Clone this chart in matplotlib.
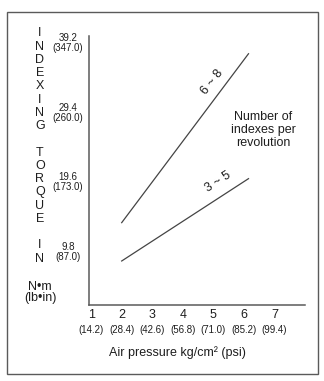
import matplotlib
matplotlib.use('Agg')
import matplotlib.pyplot as plt
from matplotlib.patches import Rectangle

# air pressure in kg/cm2 and the same in psi
pressure = [1, 2, 3, 4, 5, 6, 7]
pressure_psi = ["(14.2)", "(28.4)", "(42.6)", "(56.8)", "(71.0)", "(85.2)", "(99.4)"]

# indexing torque ticks in N*m and lb*in
torque = [9.8, 19.6, 29.4, 39.2]
torque_lbin = ["(87.0)", "(173.0)", "(260.0)", "(347.0)"]

# torque lines for number of indexes per revolution
line_x = [2, 6.15]
torque_6_8 = [13.9, 37.7]
torque_3_5 = [8.5, 20.1]

plt.rcParams['font.family'] = ['Liberation Sans', 'DejaVu Sans']
narrow = ['Liberation Sans Narrow', 'Liberation Sans', 'DejaVu Sans']
ink = '#1e1e1e'
line_col = '#444444'

fig = plt.figure(figsize=(3.24, 3.81), dpi=100)
fig.patches.append(Rectangle((0.0216, 0.0184), 0.96, 0.95, transform=fig.transFigure,
                             fill=False, edgecolor='#5a5a5a', linewidth=1.0))

ax = fig.add_axes([0.2747, 0.1995, 0.6667, 0.706])
ax.plot(line_x, torque_6_8, color=line_col, linewidth=0.9)
ax.plot(line_x, torque_3_5, color=line_col, linewidth=0.9)

ax.set_xlim(0.93, 8.0)
ax.set_ylim(2.3, 40.2)
for side in ['top', 'right']:
	ax.spines[side].set_visible(False)
for side in ['left', 'bottom']:
	ax.spines[side].set_color('#5a5a5a')
	ax.spines[side].set_linewidth(1.1)
ax.set_xticks([])
ax.set_yticks([])

# x tick labels: kg/cm2 on top, psi below
for p, psi in zip(pressure, pressure_psi):
	ax.annotate(str(p), xy=(p, 0), xycoords=('data', 'axes fraction'),
	            xytext=(0, -3), textcoords='offset points', ha='center', va='top',
	            fontsize=9, color=ink)
	ax.annotate(psi, xy=(p, 0), xycoords=('data', 'axes fraction'),
	            xytext=(0, -18), textcoords='offset points', ha='center', va='center',
	            fontsize=7, family=narrow, color=ink)

# y tick labels: N*m over lb*in
for t, lb in zip(torque, torque_lbin):
	ax.annotate("%.1f\n%s" % (t, lb), xy=(0, t), xycoords=('axes fraction', 'data'),
	            xytext=(-15, 0), textcoords='offset points', ha='center', va='center',
	            fontsize=7, family=narrow, color=ink, linespacing=1.0)

ax.text(4.97, 33.7, "6 ~ 8", rotation=52, ha='center', va='center', fontsize=9, color=ink)
ax.text(5.16, 19.7, "3 ~ 5", rotation=33, ha='center', va='center', fontsize=9, color=ink)
ax.text(6.64, 27.0, "Number of\nindexes per\nrevolution", ha='center', va='center',
        fontsize=9, color=ink, linespacing=1.1)

fig.text(0.549, 1 - 353 / 381, "Air pressure kg/cm² (psi)", ha='center', va='center',
         fontsize=9, color=ink)

# stacked axis title, one letter per line, blank line between words
stacked = "\n".join(c if c != " " else "" for c in "INDEXING TORQUE IN")
fig.text(40 / 324, 1 - 146 / 381, stacked, ha='center', va='center',
         fontsize=9, color=ink, linespacing=1.14)
fig.text(40 / 324, 1 - 292.5 / 381, "N•m\n(lb•in)", ha='center', va='center',
         fontsize=9, color=ink, linespacing=0.92)

plt.savefig('out.png', dpi=100)
